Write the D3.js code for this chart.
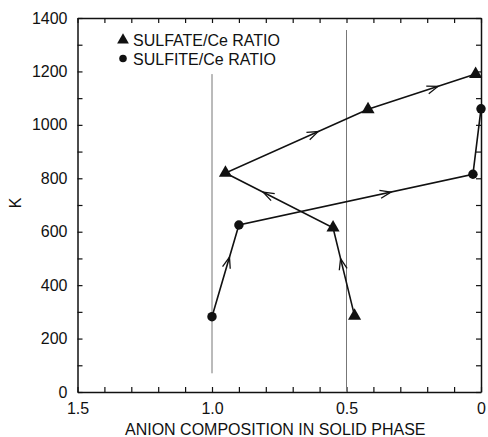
<!DOCTYPE html>
<html>
<head>
<meta charset="utf-8">
<script src="https://cdn.jsdelivr.net/npm/d3@7"></script>
<style>
  body { margin: 0; background: #fff; }
  svg { font-family: "Liberation Sans", Arial, sans-serif; }
</style>
</head>
<body>
<div id="canvas"></div>
<script>
// sulfate/Ce ratio, visited in this order
const sulfateX = [0.47, 0.55, 0.95, 0.42, 0.02];
const sulfateK = [285, 615, 820, 1058, 1190];
const sulfateArrows = [true, true, true, true];

// sulfite/Ce ratio
const sulfiteX = [1.0, 0.9, 0.03, 0.0];
const sulfiteK = [282, 625, 815, 1060];
const sulfiteArrows = [true, true, false];

const xTickLabels = [1.5, 1.0, 0.5, 0];
const yTickLabels = [0, 200, 400, 600, 800, 1000, 1200, 1400];

// thin reference lines: [x, K from, K to]
const guideX = [1.0, 0.5];
const guideFrom = [70, 0];
const guideTo = [1190, 1355];

const width = 488;
const height = 437;
const margin = { top: 18, left: 77.5, bottom: 45, right: 7 };
const iwidth = width - margin.left - margin.right;
const iheight = height - margin.top - margin.bottom;

const svg = d3.select("#canvas").append("svg")
  .attr("width", width)
  .attr("height", height);

const g = svg.append("g")
  .attr("transform", `translate(${margin.left},${margin.top})`);

const x = d3.scaleLinear().domain([1.5, 0]).range([0, iwidth]);
const y = d3.scaleLinear().domain([0, 1400]).range([iheight, 0]);

const xTicks = d3.range(0, 16).map((i) => i / 10);
const yTicks = d3.range(0, 15).map((i) => i * 100);

const fmtX = (d) => {
  if (!xTickLabels.some((v) => Math.abs(v - d) < 1e-9)) return "";
  return d === 0 ? "0" : d.toFixed(1);
};
const fmtY = (d) => (yTickLabels.includes(d) ? d : "");

function styleAxis(sel) {
  sel.select(".domain").attr("stroke", "#111").attr("stroke-width", 1.5);
  sel.selectAll(".tick line").attr("stroke", "#111").attr("stroke-width", 1.2);
  sel.selectAll(".tick text").attr("fill", "#111").style("font-size", "16px");
}

g.append("g")
  .attr("transform", `translate(0,${iheight})`)
  .call(d3.axisBottom(x).tickValues(xTicks).tickFormat(fmtX)
    .tickSizeInner(-5).tickSizeOuter(0).tickPadding(11))
  .call(styleAxis);

g.append("g")
  .call(d3.axisTop(x).tickValues(xTicks).tickFormat("")
    .tickSizeInner(-5).tickSizeOuter(0))
  .call(styleAxis);

g.append("g")
  .call(d3.axisLeft(y).tickValues(yTicks).tickFormat(fmtY)
    .tickSizeInner(-5).tickSizeOuter(0).tickPadding(10))
  .call(styleAxis);

g.append("g")
  .attr("transform", `translate(${iwidth},0)`)
  .call(d3.axisRight(y).tickValues(yTicks).tickFormat("")
    .tickSizeInner(-5).tickSizeOuter(0))
  .call(styleAxis);

// guide lines
guideX.forEach((gx, i) => {
  g.append("line")
    .attr("x1", x(gx)).attr("x2", x(gx))
    .attr("y1", y(guideFrom[i])).attr("y2", y(guideTo[i]))
    .attr("stroke", "#777")
    .attr("stroke-width", 1);
});

// axis titles
svg.append("text")
  .attr("x", margin.left + iwidth / 2 - 4)
  .attr("y", 435)
  .attr("text-anchor", "middle")
  .style("font-size", "16px")
  .attr("fill", "#111")
  .text("ANION COMPOSITION IN SOLID PHASE");

svg.append("text")
  .attr("transform", "translate(21,203) rotate(-90)")
  .attr("text-anchor", "middle")
  .style("font-size", "16px")
  .attr("fill", "#111")
  .text("K");

function drawSeries(xs, ks, arrows, marker) {
  const pts = xs.map((v, i) => [x(v), y(ks[i])]);
  g.append("path")
    .attr("d", d3.line()(pts))
    .attr("fill", "none")
    .attr("stroke", "#111")
    .attr("stroke-width", 1.6);

  // open arrowheads along each segment
  arrows.forEach((on, i) => {
    if (!on) return;
    const [x0, y0] = pts[i];
    const [x1, y1] = pts[i + 1];
    const t = 0.65;
    const px = x0 + (x1 - x0) * t;
    const py = y0 + (y1 - y0) * t;
    const ang = Math.atan2(y1 - y0, x1 - x0) * 180 / Math.PI;
    g.append("path")
      .attr("d", "M-11,-4L0,0L-11,4")
      .attr("transform", `translate(${px},${py}) rotate(${ang})`)
      .attr("fill", "none")
      .attr("stroke", "#111")
      .attr("stroke-width", 1.3);
  });

  g.selectAll(null)
    .data(pts)
    .enter()
    .append("path")
    .attr("d", d3.symbol().type(marker).size(marker === d3.symbolTriangle ? 75 : 70))
    .attr("transform", (d) => `translate(${d[0]},${d[1]})`)
    .attr("fill", "#111");
}

drawSeries(sulfateX, sulfateK, sulfateArrows, d3.symbolTriangle);
drawSeries(sulfiteX, sulfiteK, sulfiteArrows, d3.symbolCircle);

// legend
const legend = svg.append("g");
const legendItems = [
  { label: "SULFATE/Ce RATIO", marker: d3.symbolTriangle, size: 60 },
  { label: "SULFITE/Ce RATIO", marker: d3.symbolCircle, size: 45 }
];
legendItems.forEach((d, i) => {
  const ly = 40 + i * 18.5;
  legend.append("path")
    .attr("d", d3.symbol().type(d.marker).size(d.size))
    .attr("transform", `translate(123,${ly})`)
    .attr("fill", "#111");
  legend.append("text")
    .attr("x", 133)
    .attr("y", ly + 6)
    .style("font-size", "16px")
    .attr("fill", "#111")
    .text(d.label);
});
</script>
</body>
</html>
